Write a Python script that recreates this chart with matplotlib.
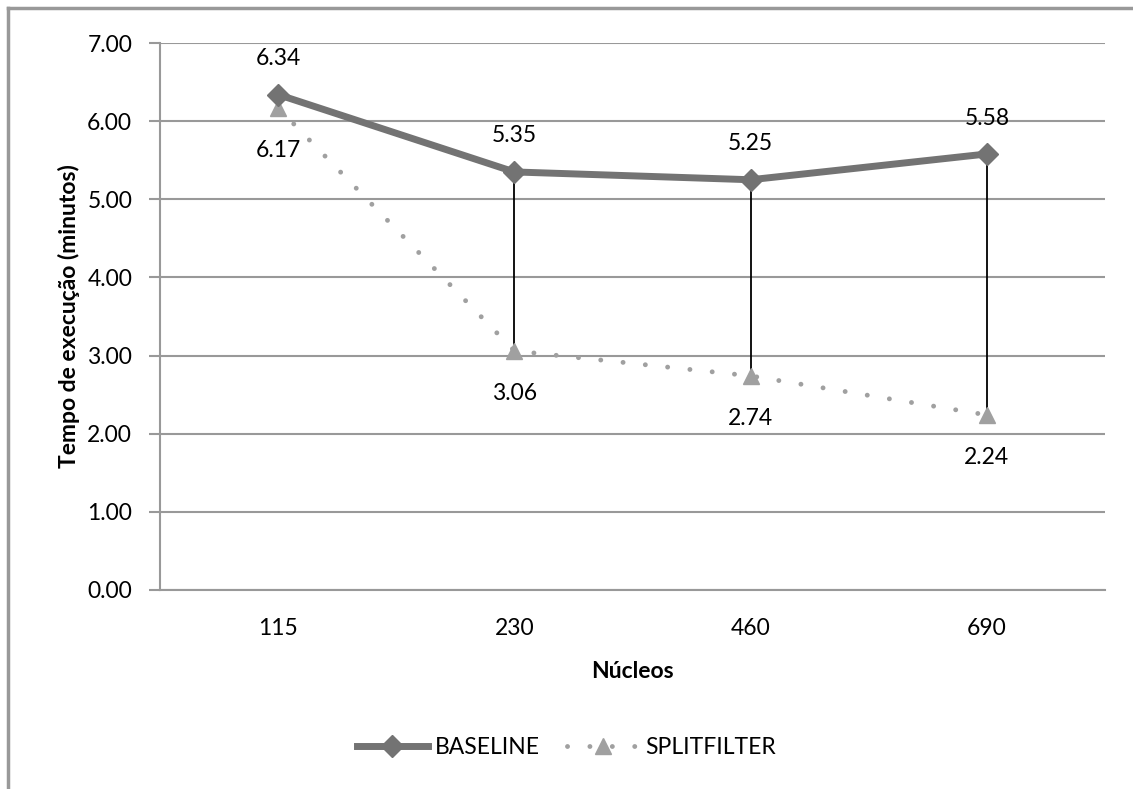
import matplotlib.pyplot as plt
from matplotlib.lines import Line2D
import numpy as np

# dados
nucleos = ["115", "230", "460", "690"]
baseline = [6.34, 5.35, 5.25, 5.58]
splitfilter = [6.17, 3.06, 2.74, 2.24]
yticks = [0, 1, 2, 3, 4, 5, 6, 7]

plt.rcParams["font.family"] = ["Lato", "DejaVu Sans"]
fs = 16.5

fig = plt.figure(figsize=(11.33, 7.89), dpi=100)
ax = fig.add_axes([160 / 1133, 1 - 590 / 789, (1105 - 160) / 1133, (590 - 43) / 789])

x = np.arange(len(nucleos))
cinza_escuro = "#737373"
cinza_claro = "#a0a0a0"
pontilhado = (0, (0.01, 4.6))

# linhas alto-baixo
ax.vlines(x, splitfilter, baseline, color="black", lw=1.3, zorder=2)

ax.plot(x, splitfilter, color=cinza_claro, lw=3.5, ls=pontilhado,
        dash_capstyle="round", marker="^", ms=11, mfc=cinza_claro, mec=cinza_claro, zorder=3)
ax.plot(x, baseline, color=cinza_escuro, lw=5, marker="D", ms=11,
        mfc=cinza_escuro, mec=cinza_escuro, zorder=4)

for i in x:
    ax.text(i, baseline[i] + 0.46, f"{baseline[i]:.2f}", ha="center", va="center", fontsize=fs)
    ax.text(i, splitfilter[i] - 0.55, f"{splitfilter[i]:.2f}", ha="center", va="center", fontsize=fs)

ax.set_xlim(-0.5, 3.5)
ax.set_ylim(0, 7)
ax.set_yticks(yticks)
ax.set_yticklabels([f"{v:.2f}" for v in yticks], fontsize=fs)
ax.set_xticks(x)
ax.set_xticklabels(nucleos, fontsize=fs)
ax.tick_params(axis="x", length=0, pad=20)
ax.tick_params(axis="y", length=8, width=1.5, color="#999999", pad=12)
ax.yaxis.grid(True, color="#999999", lw=1.5)
ax.set_axisbelow(True)
for s in ["top", "right"]:
    ax.spines[s].set_visible(False)
ax.spines["left"].set_color("#999999")
ax.spines["left"].set_linewidth(1.5)
ax.spines["bottom"].set_color("#999999")
ax.spines["bottom"].set_linewidth(1.5)

ax.set_xlabel("Núcleos", fontsize=fs, fontweight="bold", labelpad=16)
ax.set_ylabel("Tempo de execução (minutos)", fontsize=fs, fontweight="bold", labelpad=5)

# moldura externa (apenas topo e esquerda visíveis)
fig.add_artist(Line2D([8 / 1133, 1], [1 - 8 / 789, 1 - 8 / 789], color="#999999", lw=2.5))
fig.add_artist(Line2D([8 / 1133, 8 / 1133], [0, 1 - 8 / 789], color="#999999", lw=2.5))

h1 = Line2D([], [], color=cinza_escuro, lw=5, marker="D", ms=11, mfc=cinza_escuro, mec=cinza_escuro)
h2 = Line2D([], [], color=cinza_claro, lw=3.5, ls=pontilhado, dash_capstyle="round",
            marker="^", ms=11, mfc=cinza_claro, mec=cinza_claro)
fig.legend([h1, h2], ["BASELINE", "SPLITFILTER"], loc="center", bbox_to_anchor=(0.5, 1 - 748 / 789),
           ncol=2, frameon=False, fontsize=fs, handlelength=3.1, columnspacing=1.2, handletextpad=0.3)

fig.savefig("out.png", dpi=100)
